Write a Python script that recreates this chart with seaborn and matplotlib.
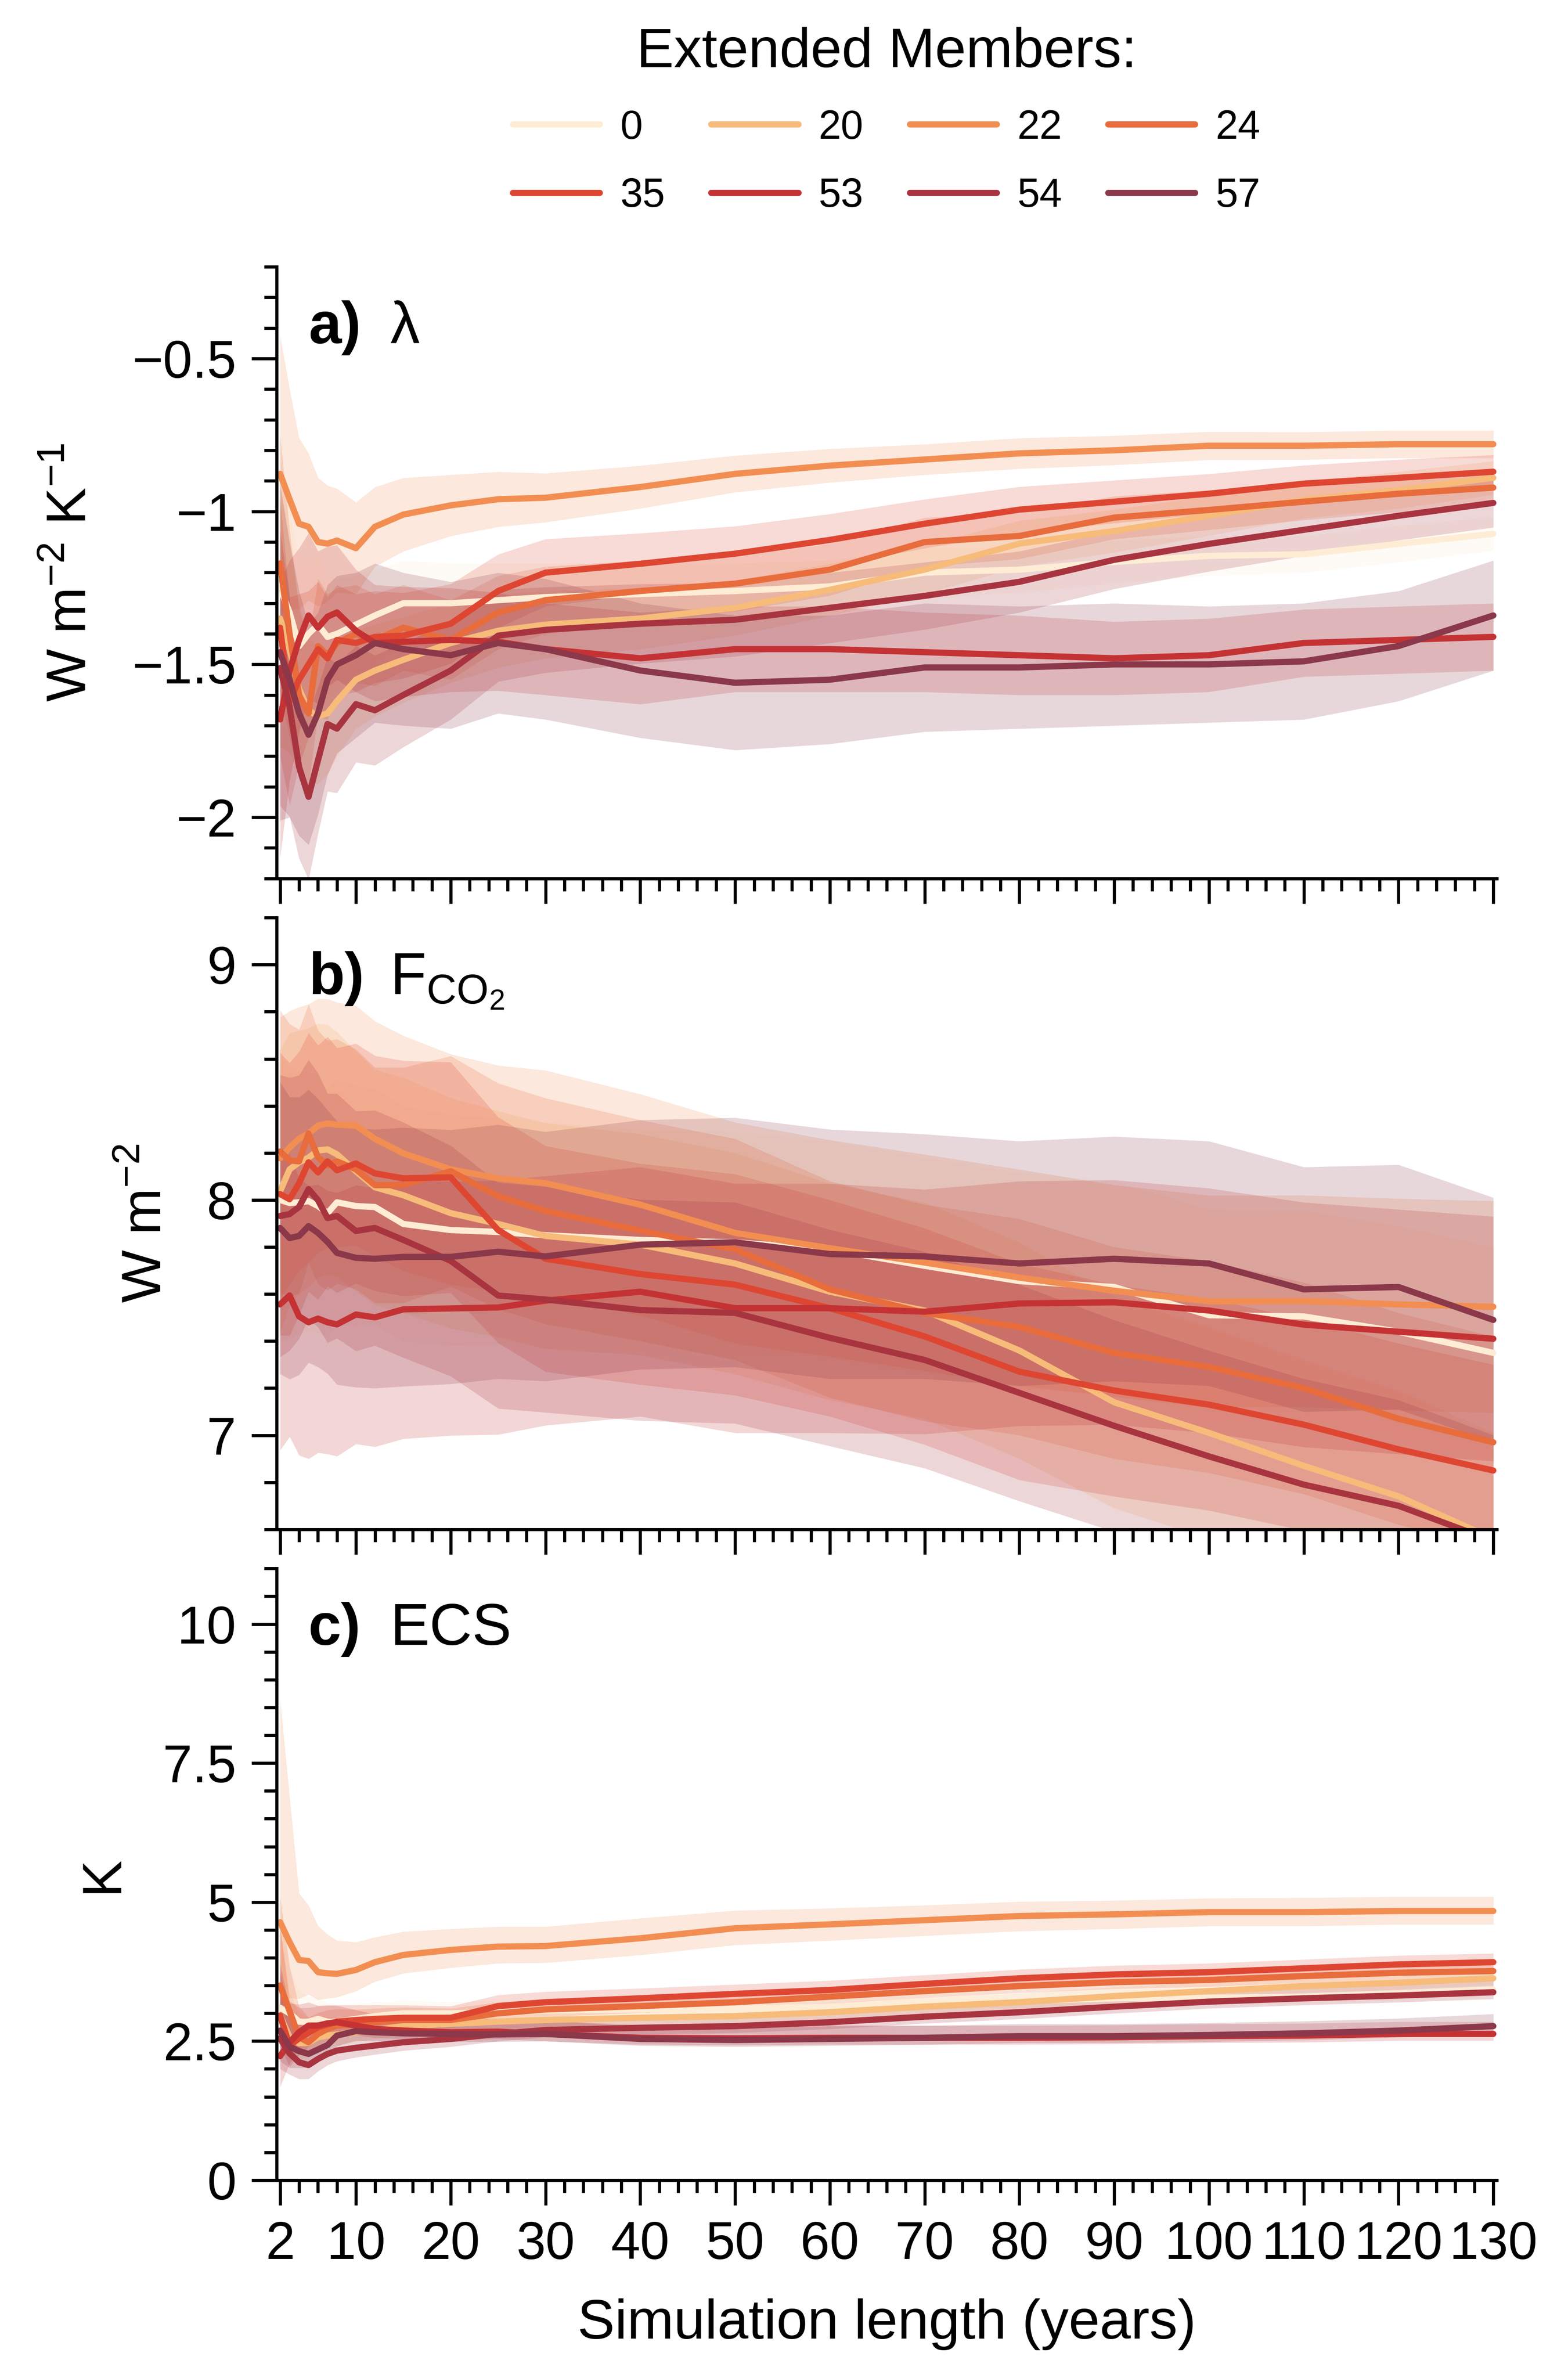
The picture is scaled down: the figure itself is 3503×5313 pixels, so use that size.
import numpy as np
import pandas as pd
import matplotlib
matplotlib.use('Agg')
import matplotlib.pyplot as plt
from matplotlib.ticker import MultipleLocator, FixedLocator, FuncFormatter
from matplotlib.lines import Line2D
import seaborn as sns

YEARS = [2, 3, 4, 5, 6, 7, 8, 10, 12, 15, 20, 25, 30, 40, 50, 60, 70, 80, 90, 100, 110, 120, 130]
MEMBERS = ['0', '20', '22', '24', '35', '53', '54', '57']
COLORS = ['#feecd5', '#f7bb7a', '#f28e52', '#e86c3c', '#de4632', '#c43234', '#a83440', '#8a384a']

# a) lambda (W m-2 K-1)
lam_0 = [-1.25, -1.33, -1.44, -1.40, -1.37, -1.41, -1.40, -1.37, -1.34, -1.30, -1.30, -1.29, -1.28, -1.27, -1.26, -1.245, -1.20, -1.19, -1.165, -1.145, -1.14, -1.106, -1.073]
lam_20 = [-1.35, -1.45, -1.58, -1.65, -1.67, -1.66, -1.62, -1.55, -1.52, -1.485, -1.43, -1.39, -1.37, -1.35, -1.315, -1.256, -1.19, -1.105, -1.064, -1.014, -0.962, -0.93, -0.89]
lam_22 = [-0.877, -0.96, -1.04, -1.05, -1.10, -1.105, -1.095, -1.12, -1.05, -1.01, -0.98, -0.96, -0.955, -0.92, -0.877, -0.85, -0.83, -0.81, -0.80, -0.785, -0.785, -0.78, -0.78]
lam_24 = [-1.17, -1.40, -1.60, -1.66, -1.44, -1.47, -1.43, -1.40, -1.42, -1.38, -1.42, -1.33, -1.29, -1.26, -1.236, -1.19, -1.10, -1.08, -1.02, -0.995, -0.968, -0.942, -0.922]
lam_35 = [-1.38, -1.62, -1.55, -1.50, -1.45, -1.48, -1.42, -1.43, -1.41, -1.406, -1.367, -1.26, -1.20, -1.171, -1.138, -1.093, -1.04, -0.994, -0.968, -0.942, -0.909, -0.89, -0.87]
lam_53 = [-1.68, -1.52, -1.42, -1.34, -1.38, -1.344, -1.33, -1.39, -1.43, -1.426, -1.42, -1.426, -1.45, -1.48, -1.45, -1.45, -1.46, -1.47, -1.48, -1.47, -1.43, -1.42, -1.41]
lam_54 = [-1.512, -1.638, -1.835, -1.933, -1.813, -1.695, -1.71, -1.63, -1.65, -1.60, -1.52, -1.406, -1.387, -1.367, -1.354, -1.315, -1.276, -1.23, -1.158, -1.106, -1.06, -1.014, -0.972]
lam_57 = [-1.46, -1.55, -1.66, -1.73, -1.66, -1.55, -1.50, -1.47, -1.43, -1.45, -1.47, -1.43, -1.45, -1.52, -1.56, -1.55, -1.51, -1.51, -1.50, -1.50, -1.49, -1.44, -1.34]

lam_hw_22 = [0.45, 0.36, 0.28, 0.24, 0.21, 0.19, 0.17, 0.15, 0.13, 0.12, 0.10, 0.09, 0.08, 0.07, 0.06, 0.055, 0.05, 0.05, 0.048, 0.046, 0.045, 0.045, 0.045]
lam_hw_mid = [0.42, 0.34, 0.28, 0.24, 0.22, 0.20, 0.18, 0.16, 0.15, 0.14, 0.13, 0.12, 0.11, 0.10, 0.09, 0.085, 0.08, 0.075, 0.07, 0.065, 0.06, 0.06, 0.055]
lam_hw_53 = [0.45, 0.36, 0.30, 0.27, 0.25, 0.23, 0.22, 0.20, 0.19, 0.18, 0.17, 0.16, 0.15, 0.15, 0.14, 0.14, 0.13, 0.13, 0.12, 0.12, 0.11, 0.11, 0.11]
lam_hw_54 = [0.45, 0.36, 0.30, 0.27, 0.24, 0.22, 0.21, 0.19, 0.18, 0.17, 0.16, 0.15, 0.14, 0.13, 0.12, 0.115, 0.11, 0.10, 0.095, 0.09, 0.085, 0.08, 0.08]
lam_hw_57 = [0.55, 0.45, 0.40, 0.36, 0.33, 0.31, 0.29, 0.27, 0.26, 0.25, 0.24, 0.23, 0.23, 0.22, 0.22, 0.21, 0.21, 0.20, 0.20, 0.19, 0.19, 0.18, 0.18]

# b) F_CO2 (W m-2)
f_0 = [8.0, 7.987, 7.99, 7.995, 7.974, 7.944, 7.99, 7.974, 7.97, 7.898, 7.872, 7.864, 7.85, 7.83, 7.82, 7.79, 7.72, 7.655, 7.63, 7.51, 7.505, 7.44, 7.35]
f_20 = [8.037, 8.13, 8.16, 8.18, 8.21, 8.215, 8.194, 8.122, 8.054, 8.02, 7.944, 7.898, 7.847, 7.81, 7.73, 7.61, 7.53, 7.36, 7.14, 7.01, 6.87, 6.74, 6.56]
f_22 = [8.177, 8.223, 8.26, 8.282, 8.316, 8.325, 8.32, 8.316, 8.26, 8.198, 8.13, 8.092, 8.071, 7.98, 7.86, 7.795, 7.734, 7.67, 7.614, 7.569, 7.57, 7.556, 7.546]
f_24 = [8.206, 8.168, 8.164, 8.282, 8.181, 8.147, 8.164, 8.13, 8.063, 8.063, 8.122, 8.016, 7.953, 7.87, 7.79, 7.62, 7.52, 7.46, 7.35, 7.29, 7.20, 7.07, 6.97]
f_35 = [8.025, 8.003, 8.071, 8.16, 8.117, 8.164, 8.126, 8.155, 8.113, 8.092, 8.096, 7.872, 7.75, 7.685, 7.64, 7.54, 7.42, 7.27, 7.19, 7.13, 7.045, 6.94, 6.85]
f_53 = [7.556, 7.594, 7.505, 7.48, 7.496, 7.48, 7.471, 7.513, 7.501, 7.535, 7.539, 7.543, 7.572, 7.61, 7.54, 7.54, 7.525, 7.56, 7.565, 7.53, 7.47, 7.44, 7.41]
f_54 = [7.932, 7.94, 7.97, 8.046, 7.999, 7.923, 7.932, 7.868, 7.881, 7.83, 7.741, 7.594, 7.577, 7.532, 7.52, 7.414, 7.32, 7.18, 7.04, 6.91, 6.79, 6.70, 6.55]
f_57 = [7.881, 7.838, 7.847, 7.889, 7.86, 7.822, 7.775, 7.754, 7.75, 7.758, 7.758, 7.78, 7.76, 7.81, 7.82, 7.77, 7.76, 7.73, 7.75, 7.73, 7.62, 7.63, 7.49]

f_hw = [0.60, 0.58, 0.56, 0.55, 0.54, 0.53, 0.52, 0.51, 0.50, 0.50, 0.49, 0.48, 0.48, 0.47, 0.47, 0.46, 0.46, 0.46, 0.45, 0.45, 0.45, 0.45, 0.45]
f_hw_wide = [0.62, 0.60, 0.59, 0.58, 0.57, 0.56, 0.56, 0.55, 0.55, 0.55, 0.54, 0.54, 0.53, 0.53, 0.53, 0.53, 0.52, 0.52, 0.52, 0.52, 0.52, 0.52, 0.52]

# c) ECS (K)
ecs_0 = [3.1, 3.0, 2.85, 2.85, 2.9, 2.85, 2.85, 2.9, 2.95, 3.0, 3.0, 3.02, 3.05, 3.07, 3.08, 3.12, 3.2, 3.22, 3.27, 3.28, 3.3, 3.36, 3.43]
ecs_20 = [2.96, 2.57, 2.46, 2.47, 2.57, 2.60, 2.62, 2.66, 2.70, 2.77, 2.81, 2.85, 2.88, 2.92, 2.95, 3.02, 3.12, 3.20, 3.31, 3.40, 3.49, 3.55, 3.63]
ecs_22 = [4.64, 4.28, 3.96, 3.94, 3.74, 3.72, 3.71, 3.78, 3.92, 4.05, 4.14, 4.20, 4.21, 4.35, 4.53, 4.60, 4.675, 4.75, 4.78, 4.82, 4.82, 4.84, 4.84]
ecs_24 = [3.50, 3.04, 2.57, 2.48, 2.63, 2.72, 2.78, 2.80, 2.84, 2.88, 2.88, 3.00, 3.07, 3.13, 3.20, 3.30, 3.40, 3.49, 3.56, 3.60, 3.67, 3.73, 3.76]
ecs_35 = [2.96, 2.42, 2.55, 2.65, 2.75, 2.80, 2.85, 2.88, 2.90, 2.92, 2.92, 3.13, 3.20, 3.27, 3.35, 3.42, 3.53, 3.63, 3.70, 3.74, 3.81, 3.88, 3.92]
ecs_53 = [2.23, 2.48, 2.66, 2.78, 2.78, 2.82, 2.84, 2.78, 2.72, 2.69, 2.66, 2.67, 2.63, 2.56, 2.55, 2.56, 2.56, 2.56, 2.57, 2.59, 2.60, 2.63, 2.63]
ecs_54 = [2.55, 2.28, 2.12, 2.07, 2.18, 2.27, 2.33, 2.38, 2.42, 2.48, 2.54, 2.63, 2.70, 2.74, 2.77, 2.84, 2.94, 3.02, 3.12, 3.21, 3.27, 3.32, 3.38]
ecs_57 = [2.69, 2.40, 2.32, 2.27, 2.35, 2.43, 2.60, 2.68, 2.66, 2.64, 2.63, 2.62, 2.63, 2.54, 2.52, 2.54, 2.56, 2.59, 2.59, 2.61, 2.64, 2.69, 2.77]

ecs_hi_22 = [4.0, 2.6, 1.2, 1.0, 0.83, 0.7, 0.6, 0.5, 0.45, 0.42, 0.38, 0.36, 0.35, 0.36, 0.32, 0.29, 0.27, 0.26, 0.25, 0.25, 0.26, 0.26, 0.26]
ecs_lo_22 = [1.5, 1.0, 0.7, 0.6, 0.5, 0.45, 0.42, 0.38, 0.35, 0.33, 0.32, 0.30, 0.30, 0.30, 0.30, 0.29, 0.28, 0.27, 0.26, 0.25, 0.25, 0.24, 0.24]
ecs_hi = [1.6, 0.8, 0.55, 0.45, 0.38, 0.34, 0.30, 0.27, 0.25, 0.23, 0.21, 0.20, 0.19, 0.18, 0.17, 0.17, 0.16, 0.16, 0.16, 0.16, 0.16, 0.16, 0.16]
ecs_hi_dark = [1.2, 0.7, 0.5, 0.42, 0.36, 0.33, 0.30, 0.28, 0.27, 0.26, 0.25, 0.24, 0.24, 0.23, 0.23, 0.23, 0.22, 0.22, 0.22, 0.22, 0.22, 0.22, 0.22]
ecs_lo = [0.55, 0.38, 0.30, 0.25, 0.22, 0.20, 0.19, 0.17, 0.16, 0.15, 0.14, 0.13, 0.13, 0.12, 0.12, 0.12, 0.12, 0.12, 0.12, 0.12, 0.12, 0.12, 0.12]

lam = {'0': lam_0, '20': lam_20, '22': lam_22, '24': lam_24, '35': lam_35, '53': lam_53, '54': lam_54, '57': lam_57}
lam_band = {'0': (lam_hw_mid, lam_hw_mid), '20': (lam_hw_mid, lam_hw_mid), '22': (lam_hw_22, lam_hw_22),
            '24': (lam_hw_mid, lam_hw_mid), '35': (lam_hw_mid, lam_hw_mid), '53': (lam_hw_53, lam_hw_53),
            '54': (lam_hw_54, lam_hw_54), '57': (lam_hw_57, lam_hw_57)}
frc = {'0': f_0, '20': f_20, '22': f_22, '24': f_24, '35': f_35, '53': f_53, '54': f_54, '57': f_57}
frc_band = {m: ((f_hw_wide, f_hw_wide) if m in ('53', '57') else (f_hw, f_hw)) for m in MEMBERS}
ecs = {'0': ecs_0, '20': ecs_20, '22': ecs_22, '24': ecs_24, '35': ecs_35, '53': ecs_53, '54': ecs_54, '57': ecs_57}
ecs_band = {m: (ecs_lo, ecs_hi_dark if m in ('53', '54', '57') else ecs_hi) for m in MEMBERS}
ecs_band['22'] = (ecs_lo_22, ecs_hi_22)


def to_long(d, band):
    rows = []
    for m in MEMBERS:
        lo, hi = band[m]
        for yr, v, l, h in zip(YEARS, d[m], lo, hi):
            rows.append({'year': yr, 'member': m, 'value': v, 'lo': v - l, 'hi': v + h})
    return pd.DataFrame(rows)


panels = [
    (to_long(lam, lam_band), 'W m$^{-2}$ K$^{-1}$', (-2.2, -0.2), 0.5, 0.1, 'a)', 'λ'),
    (to_long(frc, frc_band), 'W m$^{-2}$', (6.6, 9.2), 1.0, 0.2, 'b)', 'F$_{\\mathrm{CO_2}}$'),
    (to_long(ecs, ecs_band), 'K', (0, 11), 2.5, 0.5, 'c)', 'ECS'),
]

sns.set_theme(style='ticks', context='talk')
plt.rcParams['font.family'] = ['Liberation Sans', 'DejaVu Sans']
plt.rcParams['mathtext.fontset'] = 'custom'
plt.rcParams['mathtext.rm'] = 'Liberation Sans'
plt.rcParams['mathtext.it'] = 'Liberation Sans:italic'
plt.rcParams['mathtext.bf'] = 'Liberation Sans:bold'
plt.rcParams['axes.linewidth'] = 1.0
for key in ['text.color', 'axes.labelcolor', 'axes.edgecolor', 'xtick.color', 'ytick.color']:
    plt.rcParams[key] = 'black'

fig, axes = plt.subplots(3, 1, figsize=(3503 / 500, 5313 / 500), dpi=500, sharex=True)
fig.subplots_adjust(left=0.1764, right=0.9546, top=0.8878, bottom=0.0832, hspace=0.064)

fmt = FuncFormatter(lambda v, p: f'{v:g}'.replace('-', '\u2212'))

for ax, (df, ylab, ylim, major, minor, tag, name) in zip(axes, panels):
    for m, c in zip(MEMBERS, COLORS):
        sub = df[df.member == m]
        ax.fill_between(sub.year, sub.lo, sub.hi, color=c, alpha=0.2, lw=0)
    sns.lineplot(data=df, x='year', y='value', hue='member', hue_order=MEMBERS,
                 palette=COLORS, lw=2.0, errorbar=None, legend=False, ax=ax)
    ax.set_ylim(*ylim)
    ax.set_xlim(1.63, 130.37)
    ax.yaxis.set_major_locator(MultipleLocator(major))
    ax.yaxis.set_minor_locator(MultipleLocator(minor))
    ax.yaxis.set_major_formatter(fmt)
    ax.xaxis.set_major_locator(FixedLocator([2] + list(range(10, 131, 10))))
    ax.xaxis.set_minor_locator(MultipleLocator(2))
    ax.tick_params(which='major', length=8, width=1.0, direction='out', labelsize=17, pad=5)
    ax.tick_params(which='minor', length=4, width=1.0, direction='out')
    ax.set_ylabel(ylab, fontsize=18, labelpad=11)
    ax.set_xlabel('')
    ax.text(0.026, 0.875, tag, transform=ax.transAxes, fontsize=19, fontweight='bold', va='baseline')
    ax.text(0.093, 0.875, name, transform=ax.transAxes, fontsize=19, va='baseline')

sns.despine(fig=fig)
axes[-1].set_xlabel('Simulation length (years)', fontsize=18, labelpad=9)

order = [0, 4, 1, 5, 2, 6, 3, 7]
handles = [Line2D([], [], color=COLORS[i], lw=2.0) for i in order]
labels = [MEMBERS[i] for i in order]
fig.legend(handles, labels, loc='upper center', bbox_to_anchor=(0.5655, 1.004), ncol=4,
           frameon=False, title='Extended Members:', fontsize=13, title_fontsize=18,
           handlelength=2.15, handletextpad=0.5, columnspacing=1.15, labelspacing=0.75)

fig.savefig('out.png', dpi=500)
